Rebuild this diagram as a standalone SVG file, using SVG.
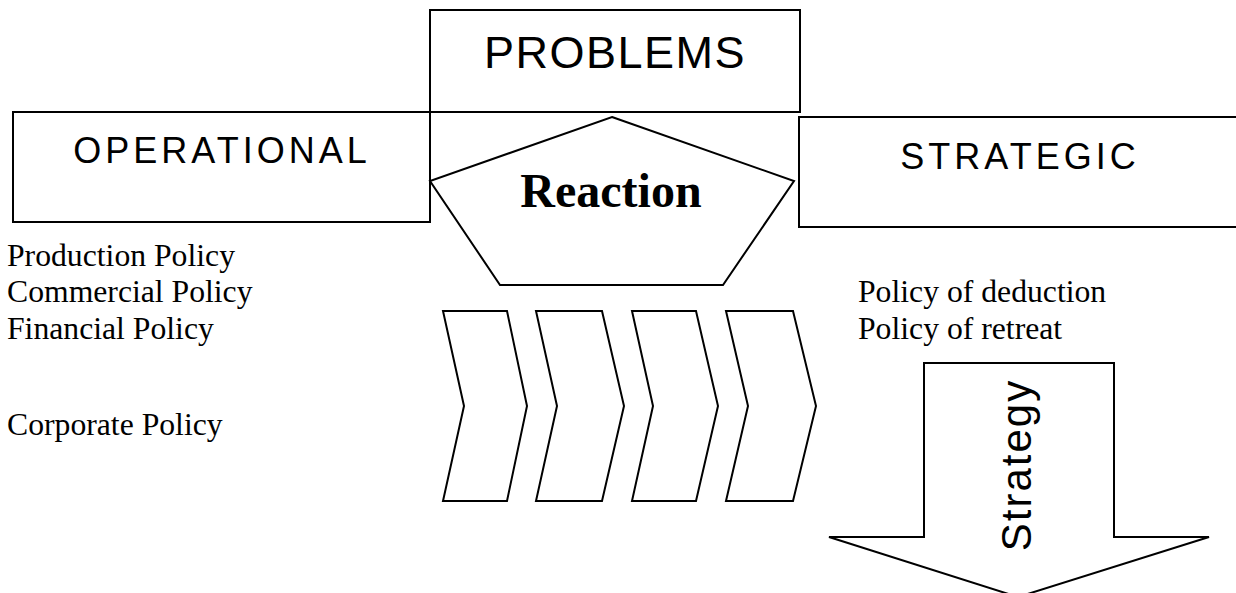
<svg xmlns="http://www.w3.org/2000/svg" width="1236" height="593" viewBox="0 0 1236 593">
<style>
.s{fill:#fff;stroke:#000;stroke-width:2}
.h{font-family:"Liberation Sans",Arial,sans-serif;fill:#000}
.t{font-family:"Liberation Serif","Times New Roman",serif;font-size:31.7px;fill:#000}
</style>
<rect width="1236" height="593" fill="#fff"/>
<g id="operational">
<rect class="s" x="13" y="112" width="417" height="110"/>
<text class="h" x="222" y="163" font-size="36" letter-spacing="4" text-anchor="middle">OPERATIONAL</text>
</g>
<g id="problems">
<rect class="s" x="430" y="10" width="370" height="102"/>
<text class="h" x="615" y="68" font-size="45" letter-spacing="1.5" text-anchor="middle">PROBLEMS</text>
</g>
<g id="strategic">
<rect class="s" x="799" y="117" width="450" height="110"/>
<text class="h" x="1020" y="169" font-size="36" letter-spacing="4" text-anchor="middle">STRATEGIC</text>
</g>
<g id="reaction">
<polygon class="s" points="612,117 794,181 723,285 500,285 430,181"/>
<text x="611" y="207" font-family="'Liberation Serif','Times New Roman',serif" font-weight="bold" font-size="48" text-anchor="middle">Reaction</text>
</g>
<g id="chevrons">
<polygon class="s" points="443,311 507,311 527,406 507,501 443,501 464,406"/>
<polygon class="s" points="536,311 602,311 624,406 602,501 536,501 557,406"/>
<polygon class="s" points="632,311 696,311 718,406 696,501 632,501 653,406"/>
<polygon class="s" points="726,311 793,311 816,406 793,501 726,501 748,406"/>
</g>
<g id="strategy">
<polygon class="s" points="924,363 1114,363 1114,537 1209,537 1018,597 829,537 924,537"/>
<text class="h" transform="translate(1031,465) rotate(-90)" font-size="42" letter-spacing="2" text-anchor="middle">Strategy</text>
</g>
<g id="labels">
<text class="t" x="7" y="266">Production Policy</text>
<text class="t" x="7" y="302">Commercial Policy</text>
<text class="t" x="7" y="339">Financial Policy</text>
<text class="t" x="7" y="435">Corporate Policy</text>
<text class="t" x="858" y="302">Policy of deduction</text>
<text class="t" x="858" y="339">Policy of retreat</text>
</g>
<g id="connectors"></g>
</svg>
